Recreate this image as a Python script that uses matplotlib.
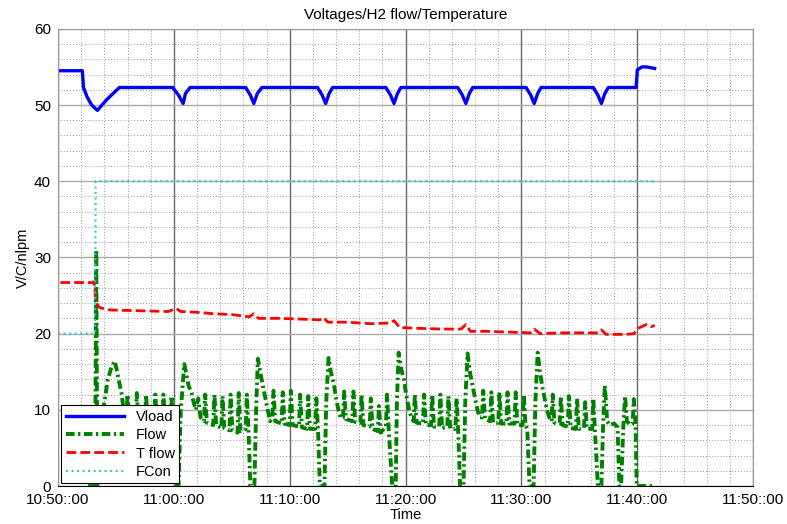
import numpy as np
import matplotlib
matplotlib.use('Agg')
import matplotlib.pyplot as plt
from matplotlib.ticker import MultipleLocator

plt.rcParams['font.family'] = ['Liberation Sans', 'DejaVu Sans']

# time in minutes after 10:50:00
xtick_labels = ['10:50::00', '11:00::00', '11:10::00', '11:20::00',
                '11:30::00', '11:40::00', '11:50::00']

vload_t = [0.1, 2.1, 2.2, 2.5, 2.9, 3.4, 4.2, 5.3,
           9.9, 10.4, 10.8, 11.0, 11.4,
           16.2, 16.6, 16.9, 17.2, 17.6,
           22.4, 22.8, 23.1, 23.4, 23.7,
           28.3, 28.7, 29.0, 29.3, 29.6,
           34.5, 34.9, 35.2, 35.5, 35.8,
           40.4, 40.8, 41.1, 41.4, 41.7,
           46.2, 46.6, 46.9, 47.2, 47.5,
           49.9, 50.0, 50.4, 50.8, 51.5]
vload_v = [54.5, 54.5, 52.3, 51.1, 50.0, 49.3, 50.7, 52.3,
           52.3, 51.3, 50.2, 51.5, 52.3,
           52.3, 51.3, 50.2, 51.5, 52.3,
           52.3, 51.3, 50.2, 51.5, 52.3,
           52.3, 51.3, 50.2, 51.5, 52.3,
           52.3, 51.3, 50.2, 51.5, 52.3,
           52.3, 51.3, 50.2, 51.5, 52.3,
           52.3, 51.3, 50.2, 51.5, 52.3,
           52.3, 54.6, 55.0, 55.0, 54.8]

flow_t = [2.6, 3.2, 3.3, 3.4, 3.6, 3.9, 4.3, 4.6, 4.9, 5.1, 5.3, 5.5, 5.7,
          5.9, 6.0, 6.15, 6.7, 6.8, 6.95, 7.5, 7.6, 7.75, 8.3, 8.4, 8.55,
          9.0, 9.1, 9.25, 9.7, 9.8, 9.9, 10.0,
          10.4, 10.6, 10.9, 11.1, 11.3, 11.5, 11.7, 11.9, 12.1, 12.3, 12.6,
          12.7, 12.85, 13.4, 13.5, 13.65, 14.1, 14.2, 14.35, 14.8, 14.9, 15.05,
          15.5, 15.6, 15.75, 16.2, 16.3, 16.45, 16.6,
          16.95, 17.1, 17.25, 17.45, 17.7, 17.9, 18.1, 18.3, 18.5, 18.6, 18.75,
          19.3, 19.4, 19.55, 20.0, 20.1, 20.25, 20.8, 20.9, 21.05,
          21.5, 21.6, 21.75, 22.2, 22.3, 22.45, 22.6,
          23.0, 23.15, 23.35, 23.55, 23.8, 24.0, 24.2, 24.4, 24.6, 24.7, 24.85,
          25.4, 25.5, 25.65, 26.1, 26.2, 26.35, 26.9, 27.0, 27.15,
          27.6, 27.7, 27.85, 28.3, 28.4, 28.55, 28.85,
          29.15, 29.25, 29.4, 29.6, 29.85, 30.05, 30.3, 30.5, 30.7, 30.8, 30.95,
          31.5, 31.6, 31.75, 32.2, 32.3, 32.45, 32.9, 33.0, 33.15,
          33.6, 33.7, 33.85, 34.3, 34.4, 34.55, 34.7,
          35.0, 35.15, 35.35, 35.55, 35.8, 36.0, 36.2, 36.4, 36.6, 36.7, 36.85,
          37.3, 37.4, 37.55, 38.0, 38.1, 38.25, 38.7, 38.8, 38.95,
          39.4, 39.5, 39.65, 40.1, 40.2, 40.35, 40.5, 40.7,
          41.05, 41.2, 41.4, 41.6, 41.8, 42.0, 42.2, 42.4, 42.6, 42.7, 42.85,
          43.3, 43.4, 43.55, 44.0, 44.1, 44.25, 44.7, 44.8, 44.95,
          45.4, 45.5, 45.65, 46.1, 46.2, 46.35, 46.6,
          46.9, 47.05, 47.2, 47.4, 47.6, 48.0, 48.3, 48.45, 48.6,
          48.8, 48.95, 49.1, 49.4, 49.6, 49.7, 49.85, 49.95, 51.5]
flow_v = [0, 0, 31, 0, 2, 10, 14, 15.5, 16.4, 15, 13.5, 12, 9.5,
          8.8, 12, 8.5, 8.2, 12.2, 8.3, 8.0, 12.0, 8.0, 7.8, 12.0, 7.8,
          7.5, 12.0, 7.6, 7.3, 11.8, 7.5, 0,
          0, 10, 16.0, 14.5, 13, 12.5, 11, 10, 11.5, 9, 8.5,
          12, 8.3, 8.0, 12.0, 8.0, 7.6, 11.8, 7.6, 7.3, 12.0, 7.3,
          7.0, 12.2, 7.2, 7.5, 12, 7, 0,
          0, 10, 16.7, 15, 13, 11.5, 10, 8.5, 9, 12.5, 8.5,
          8.2, 12.3, 8.2, 8.0, 12.5, 8.0, 7.8, 12.0, 7.7,
          7.5, 11.8, 7.5, 7.5, 11.5, 7.0, 0,
          0, 11, 16.8, 15, 13.5, 11.5, 10, 8.9, 9, 12.4, 8.8,
          8.5, 12.4, 8.4, 8.3, 12.0, 8.0, 7.8, 11.5, 7.5,
          7.2, 10.5, 7.0, 7.8, 12, 7.2, 0,
          0, 11, 17.5, 15.5, 14, 12, 10, 9, 8.5, 12, 8.3,
          8.2, 12, 8.0, 8.0, 12, 7.8, 7.8, 12, 7.6,
          7.8, 11.8, 7.5, 7.5, 11.5, 7.0, 0,
          0, 11, 17.4, 15, 13, 11.5, 10, 9, 9, 12.5, 8.8,
          8.5, 12.3, 8.3, 8.3, 12.3, 8.2, 8.2, 12.3, 8.2,
          8.2, 12.3, 8.0, 8.0, 12, 8.0, 7.5, 0,
          0, 11, 17.5, 15, 13, 11.5, 10, 9, 8.5, 12, 8.3,
          8.2, 11.8, 8.0, 7.8, 11.8, 7.6, 7.5, 11.5, 7.5,
          7.6, 11.0, 7.5, 7.5, 11.5, 7.0, 0,
          0, 8, 13.2, 8.5, 8, 8.2, 7.7, 0, 0,
          8, 11.8, 8.5, 8.0, 8.2, 11.4, 8, 0, 0]

tflow_t = [0.2, 2.9, 3.1, 3.3, 3.6, 4.5, 7.0, 9.5, 10.2, 10.6, 12.0, 13.5,
           15.0, 16.5, 16.9, 17.3, 19.0, 21.0, 22.6, 22.9, 23.3, 25.0, 27.0,
           28.7, 29.0, 29.5, 31.0, 33.0, 34.8, 35.2, 35.6, 37.0, 39.0,
           40.8, 41.1, 41.6, 43.5, 45.5, 46.6, 46.9, 47.3, 49.0, 49.7,
           50.2, 50.8, 51.2, 51.5]
tflow_v = [26.7, 26.7, 26.8, 24.0, 23.4, 23.1, 23.0, 22.9, 23.3, 22.9, 22.8, 22.6,
           22.5, 22.2, 22.6, 22.0, 22.0, 21.9, 21.8, 22.1, 21.5, 21.5, 21.3,
           21.4, 21.7, 20.8, 20.7, 20.6, 20.6, 21.2, 20.3, 20.3, 20.2,
           20.1, 20.6, 20.0, 20.1, 20.1, 20.1, 20.5, 19.9, 19.9, 20.0,
           20.8, 21.2, 20.9, 21.1]

fcon_t = [0, 3.2, 3.25, 51.5]
fcon_v = [20, 20, 40, 40]

fig = plt.figure(figsize=(7.87, 5.24), dpi=100)
ax = fig.add_axes([0.0737, 0.0725, 0.8833, 0.8725])

ax.plot(vload_t, vload_v, c='#0000ff', lw=2.4, label='Vload')
ax.plot(flow_t, flow_v, c='#008000', lw=2.8, ls=(0, (2.2, 0.9, 0.6, 0.9)),
        label='Flow')
ax.plot(tflow_t, tflow_v, c='#ff0000', lw=2.0, ls=(0, (3.5, 1.5)), label='T flow')
ax.plot(fcon_t, fcon_v, c='#33c6cc', lw=1.5, ls=':', label='FCon')

ax.set_xlim(0, 60)
ax.set_ylim(0, 60)
ax.set_xticks(np.arange(0, 61, 10))
ax.set_xticklabels(xtick_labels)
ax.set_yticks(np.arange(0, 61, 10))
ax.xaxis.set_minor_locator(MultipleLocator(2))
ax.yaxis.set_minor_locator(MultipleLocator(2))
ax.tick_params(which='both', length=0, labelsize=11, pad=5)
ax.grid(which='major', axis='x', color='#666666', lw=1.0, ls='-')
ax.grid(which='major', axis='y', color='#aaaaaa', lw=1.0, ls='-')
ax.grid(which='minor', color='#777777', lw=0.6, ls=(0, (1, 2.5)))
ax.set_axisbelow(True)

for s in ['top', 'left', 'right']:
    ax.spines[s].set_color('#999999')
ax.spines['bottom'].set_color('black')

ax.set_title('Voltages/H2 flow/Temperature', fontsize=11, pad=7)
ax.set_xlabel('Time', fontsize=10.5, labelpad=1)
ax.set_ylabel('V/C/nlpm', fontsize=10.5, labelpad=3)

leg = ax.legend(loc='lower left', bbox_to_anchor=(0.005, 0.006), borderaxespad=0,
                fontsize=10.5, handlelength=4.0, fancybox=False, framealpha=1,
                edgecolor='black', borderpad=0.3, labelspacing=0.3)
leg.get_frame().set_linewidth(0.8)

fig.savefig('out.png', dpi=100)
